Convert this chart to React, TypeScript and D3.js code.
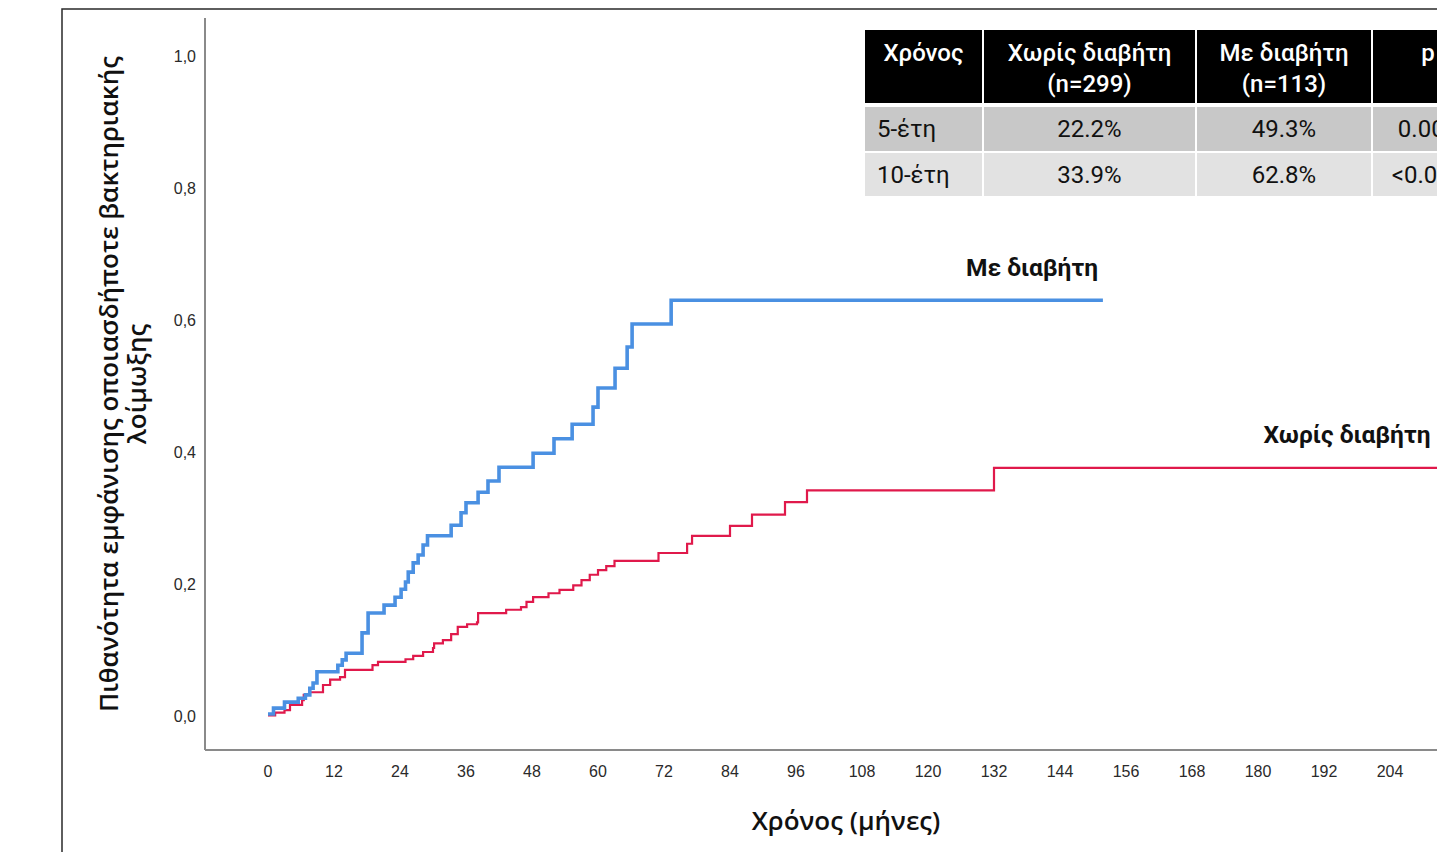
import React from "react";
import * as d3 from "d3";

// ---- Data ----
const xTicks = [0, 12, 24, 36, 48, 60, 72, 84, 96, 108, 120, 132, 144, 156, 168, 180, 192, 204];
const yTicks = [0, 0.2, 0.4, 0.6, 0.8, 1.0];

// Με διαβήτη (month, cumulative probability)
const withDiabetes: [number, number][] = [
  [0, 0.003], [1, 0.012], [3, 0.021], [5.5, 0.027], [6.8, 0.032], [7.6, 0.042], [8.2, 0.05],
  [8.9, 0.067], [12.7, 0.077], [13.5, 0.085], [14.2, 0.095], [17.1, 0.126], [18.2, 0.156],
  [21.1, 0.168], [23.1, 0.18], [24.2, 0.192], [25, 0.203], [25.5, 0.218], [26.4, 0.232],
  [27.3, 0.244], [28.2, 0.259], [29, 0.273], [33.3, 0.289], [35.1, 0.308], [36, 0.323],
  [38.2, 0.339], [40, 0.356], [42, 0.377], [48.2, 0.398], [52, 0.42], [55.3, 0.442],
  [59.1, 0.468], [60, 0.497], [63.1, 0.527], [65.3, 0.559], [66.2, 0.594], [73.3, 0.63],
  [151.8, 0.63],
];

// Χωρίς διαβήτη
const withoutDiabetes: [number, number][] = [
  [0, 0.001], [1.3, 0.005], [3, 0.009], [4, 0.017], [6.2, 0.024], [6.5, 0.032], [7.6, 0.036],
  [10, 0.047], [11.3, 0.055], [13.1, 0.059], [14, 0.07], [19, 0.077], [20, 0.082], [25, 0.086],
  [26.4, 0.091], [28.2, 0.097], [30, 0.103], [30.2, 0.11], [31.8, 0.115], [33.3, 0.124],
  [34.5, 0.135], [36.2, 0.139], [38, 0.142], [38.2, 0.156], [43.3, 0.161], [46, 0.165],
  [47, 0.173], [48.2, 0.18], [51, 0.186], [53, 0.191], [55.5, 0.198], [57, 0.206],
  [58.5, 0.214], [60, 0.221], [61.5, 0.227], [63, 0.235], [71, 0.247], [76.2, 0.261],
  [77.1, 0.273], [84, 0.288], [88, 0.305], [94, 0.324], [98, 0.342], [132, 0.376], [222, 0.376],
];

const tableHeader = [["Χρόνος"], ["Χωρίς διαβήτη", "(n=299)"], ["Με διαβήτη", "(n=113)"], ["p"]];
const tableRows = [
  ["5-έτη", "22.2%", "49.3%", "0.000"],
  ["10-έτη", "33.9%", "62.8%", "<0.001"],
];

const seriesLabels = ["Με διαβήτη", "Χωρίς διαβήτη"];
const yTitle = ["Πιθανότητα εμφάνισης οποιασδήποτε βακτηριακής", "λοίμωξης"];
const xTitle = "Χρόνος (μήνες)";

export default function App() {
  const W = 1437, H = 852;
  const x = d3.scaleLinear().domain([0, 216]).range([268, 1456]);
  const y = d3.scaleLinear().domain([0, 1]).range([716, 56]);
  const line = d3
    .line<[number, number]>()
    .x((d) => x(d[0]))
    .y((d) => y(d[1]))
    .curve(d3.curveStepAfter);
  const fmt = (v: number) => v.toFixed(1).replace(".", ",");

  const colX = [865, 984, 1197, 1373];
  const colW = [117, 211, 174, 110];
  const rowY = [30, 107, 153];
  const rowH = [73, 44, 43];
  const rowBg = ["#000000", "#c8c8c8", "#e2e2e2"];
  const tFont = "Roboto, 'DejaVu Sans', sans-serif";
  const tickFont = "'Liberation Sans', Arial, sans-serif";
  const titleFont = "'Open Sans', 'Noto Sans', sans-serif";

  return (
    <svg width={W} height={H} style={{ position: "absolute", left: 0, top: 0, background: "#fff" }}>
      <rect x={62} y={9} width={1500} height={1000} fill="none" stroke="#2a2a2a" strokeWidth={1.5} />
      {/* axes */}
      <line x1={205} x2={205} y1={18} y2={750} stroke="#8a8a8a" strokeWidth={2} />
      <line x1={205} x2={1500} y1={750} y2={750} stroke="#8a8a8a" strokeWidth={2} />
      {yTicks.map((t) => (
        <text key={t} x={196} y={y(t)} textAnchor="end" dominantBaseline="central"
          fontFamily={tickFont} fontSize={16} fill="#2a2a2a">{fmt(t)}</text>
      ))}
      {xTicks.map((t) => (
        <text key={t} x={x(t)} y={771} textAnchor="middle" dominantBaseline="central"
          fontFamily={tickFont} fontSize={16} fill="#2a2a2a">{t}</text>
      ))}
      {/* titles */}
      <g transform="translate(108,384) rotate(-90)">
        <text x={0} y={0} textAnchor="middle" dominantBaseline="central" textLength={656}
          lengthAdjust="spacingAndGlyphs"
          fontFamily={titleFont} fontWeight={600} fontSize={26} fill="#111">{yTitle[0]}</text>
        <text x={0} y={28} textAnchor="middle" dominantBaseline="central"
          fontFamily={titleFont} fontWeight={600} fontSize={26} fill="#111">{yTitle[1]}</text>
      </g>
      <text x={846} y={820} textAnchor="middle" dominantBaseline="central"
        fontFamily={titleFont} fontWeight={600} fontSize={26} fill="#111">{xTitle}</text>
      {/* curves */}
      <path d={line(withoutDiabetes) || ""} fill="none" stroke="#e0194b" strokeWidth={2.2} />
      <path d={line(withDiabetes) || ""} fill="none" stroke="#4a90e2" strokeWidth={3.6} />
      {/* labels */}
      <text x={1032} y={267} textAnchor="middle" dominantBaseline="central"
        fontFamily={tFont} fontWeight={700} fontSize={24.5} fill="#111">{seriesLabels[0]}</text>
      <text x={1347} y={434} textAnchor="middle" dominantBaseline="central"
        fontFamily={tFont} fontWeight={700} fontSize={24.5} fill="#111">{seriesLabels[1]}</text>
      {/* table */}
      {tableHeader.map((lines, c) => (
        <g key={"h" + c}>
          <rect x={colX[c]} y={rowY[0]} width={colW[c]} height={rowH[0]} fill={rowBg[0]} />
          {lines.map((s, i) => (
            <text key={i} x={colX[c] + colW[c] / 2}
              y={lines.length === 1 ? 53 : 53 + i * 31}
              textAnchor="middle" dominantBaseline="central" fontFamily={tFont} fontWeight={500}
              fontSize={24} fill="#fff">{s}</text>
          ))}
        </g>
      ))}
      {tableRows.map((row, r) => (
        <g key={"r" + r}>
          {row.map((s, c) => (
            <g key={c}>
              <rect x={colX[c]} y={rowY[r + 1]} width={colW[c]} height={rowH[r + 1]} fill={rowBg[r + 1]} />
              <text x={c === 0 ? colX[c] + 12 : colX[c] + colW[c] / 2} y={rowY[r + 1] + rowH[r + 1] / 2}
                textAnchor={c === 0 ? "start" : "middle"} dominantBaseline="central"
                fontFamily={tFont} fontWeight={400} fontSize={24} fill="#111">{s}</text>
            </g>
          ))}
        </g>
      ))}
    </svg>
  );
}
